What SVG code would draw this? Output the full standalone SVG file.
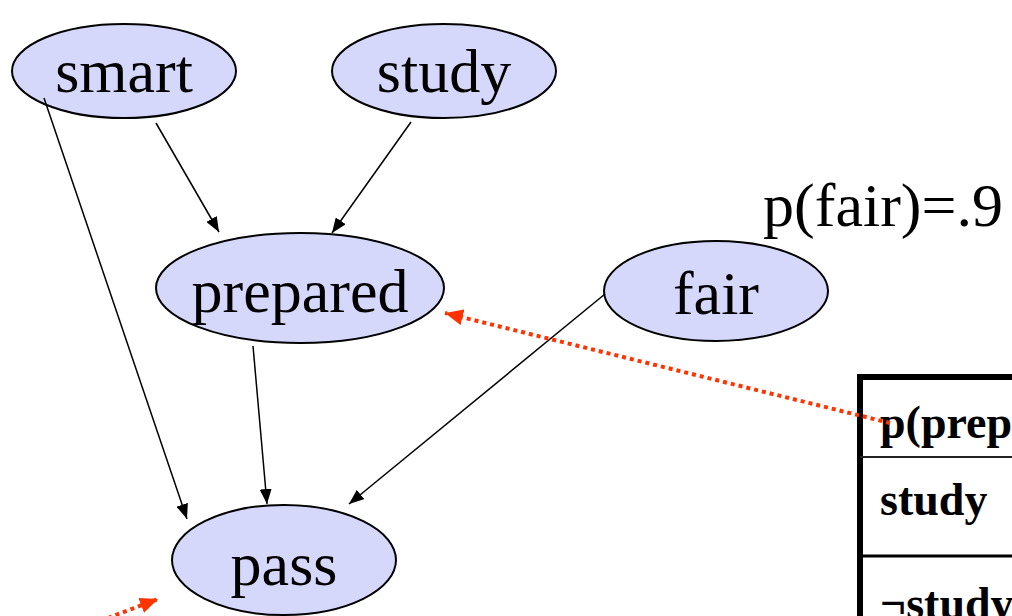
<svg xmlns="http://www.w3.org/2000/svg" width="1012" height="616" viewBox="0 0 1012 616">
<style>
.node ellipse{fill:#d5d8fa;stroke:#000;stroke-width:2}
.lbl{font-family:"Liberation Serif","Times New Roman",serif;font-size:62px;fill:#000;text-anchor:middle}
.edge{stroke:#000;stroke-width:1.5;fill:none;marker-end:url(#ah)}
.dot{stroke:#ff3300;stroke-width:4;fill:none;stroke-dasharray:4 4;marker-end:url(#rh)}
.tb{font-family:"Liberation Serif","Times New Roman",serif;font-size:46px;font-weight:bold;fill:#000}
</style>
<defs>
<marker id="ah" markerUnits="userSpaceOnUse" markerWidth="16" markerHeight="12" refX="15" refY="6" orient="auto"><path d="M0,0 L15,6 L0,12 z" fill="#000"/></marker>
<marker id="rh" markerUnits="userSpaceOnUse" markerWidth="20" markerHeight="16" refX="18" refY="8" orient="auto"><path d="M0,0 L18,8 L0,16 z" fill="#ff3300"/></marker>
</defs>
<rect width="1012" height="616" fill="#fff"/>
<g id="table">
<rect x="860" y="377" width="200" height="260" fill="#fff" stroke="#000" stroke-width="6"/>
<line x1="860" y1="457" x2="1012" y2="457" stroke="#222" stroke-width="2"/>
<line x1="860" y1="556" x2="1012" y2="556" stroke="#000" stroke-width="3"/>
<text class="tb" x="880" y="438">p(prep</text>
<text class="tb" x="880" y="515">study</text>
<text class="tb" x="880" y="619">¬study</text>
</g>
<g id="smart" class="node"><ellipse cx="124" cy="71" rx="112" ry="47"/><text class="lbl" x="124" y="92">smart</text></g>
<g id="study" class="node"><ellipse cx="444" cy="71" rx="112" ry="47"/><text class="lbl" x="444" y="92">study</text></g>
<g id="prepared" class="node"><ellipse cx="300" cy="288" rx="144" ry="55"/><text class="lbl" x="300" y="312">prepared</text></g>
<g id="fair" class="node"><ellipse cx="716" cy="291" rx="112" ry="50"/><text class="lbl" x="716" y="314">fair</text></g>
<g id="pass" class="node"><ellipse cx="284" cy="560" rx="112" ry="55"/><text class="lbl" x="284" y="585">pass</text></g>
<text id="pfair" class="lbl" x="883" y="226">p(fair)=.9</text>
<g id="connectors">
<line class="edge" x1="44" y1="98" x2="187" y2="519"/>
<line class="edge" x1="156" y1="123" x2="219" y2="232"/>
<line class="edge" x1="411" y1="122" x2="332" y2="233"/>
<line class="edge" x1="253" y1="346" x2="267" y2="504"/>
<line class="edge" x1="605" y1="294" x2="349" y2="504"/>
<line class="dot" x1="890" y1="423" x2="445" y2="313"/>
<line class="dot" x1="108" y1="618" x2="158" y2="599"/>
</g>
</svg>
